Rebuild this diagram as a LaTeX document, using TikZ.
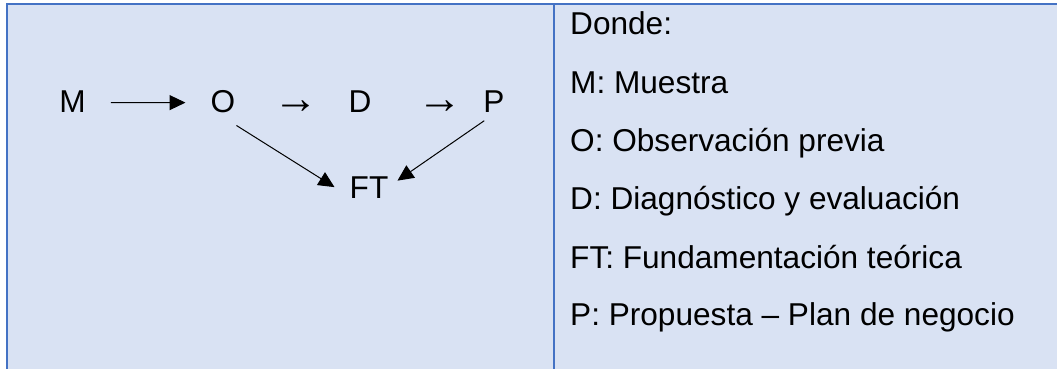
\documentclass[tikz,border=0pt]{standalone}
\usepackage{fontspec}
\setmainfont{Liberation Sans}
\usetikzlibrary{arrows.meta}
\definecolor{cellblue}{HTML}{D9E2F3}
\definecolor{ruleblue}{HTML}{4472C4}

\begin{document}
\begin{tikzpicture}[x=1pt, y=-1pt, font=\fontsize{31.6}{38}\selectfont,
  lbl/.style = {inner sep=0pt, anchor=base},
  glyph/.style = {inner sep=0pt, anchor=base, font=\fontsize{45}{50}\selectfont},
  note/.style = {inner sep=0pt, anchor=base west},
  arr/.style = {line width=1pt, -{Triangle[length=16pt, width=15pt]}}]
\useasboundingbox (0,0) rectangle (1057,369);
\fill[cellblue] (7,4) rectangle (1057,369);
\draw[ruleblue, line width=2pt] (7,369) -- (7,4) -- (1057,4);
\draw[ruleblue, line width=2pt] (553.5,4) -- (553.5,369);
% diagram
\node[lbl] (M) at (72.5,112) {M};
\node[lbl] (O) at (223,112) {O};
\node[glyph] (a1) at (296,113) {→};
\node[lbl] (D) at (360,112) {D};
\node[glyph] (a2) at (440,113) {→};
\node[lbl] (P) at (494,112) {P};
\node[lbl] (FT) at (369,198) {FT};
\draw[arr, shorten <=25pt, shorten >=25pt] ([yshift=-1.5pt]M.east) -- ([yshift=-1.5pt]O.west);
\draw[arr] ([xshift=1pt, yshift=-13pt]O.south east) -- ([xshift=-15pt]FT.west);
\draw[arr] ([xshift=1pt, yshift=-8.5pt]P.south west) -- ([xshift=9pt, yshift=6.5pt]FT.east);
% legend
\node[note] (dn) at (570,35) {Donde:};
\node[note] (lm) at (570,93) {M: Muestra};
\node[note] (lo) at (570,151) {O: Observación previa};
\node[note] (ld) at (570,209) {D: Diagnóstico y evaluación};
\node[note] (lft) at (570,268) {FT: Fundamentación teórica};
\node[note] (lp) at (570,325) {P: Propuesta – Plan de negocio};
\end{tikzpicture}
\end{document}
